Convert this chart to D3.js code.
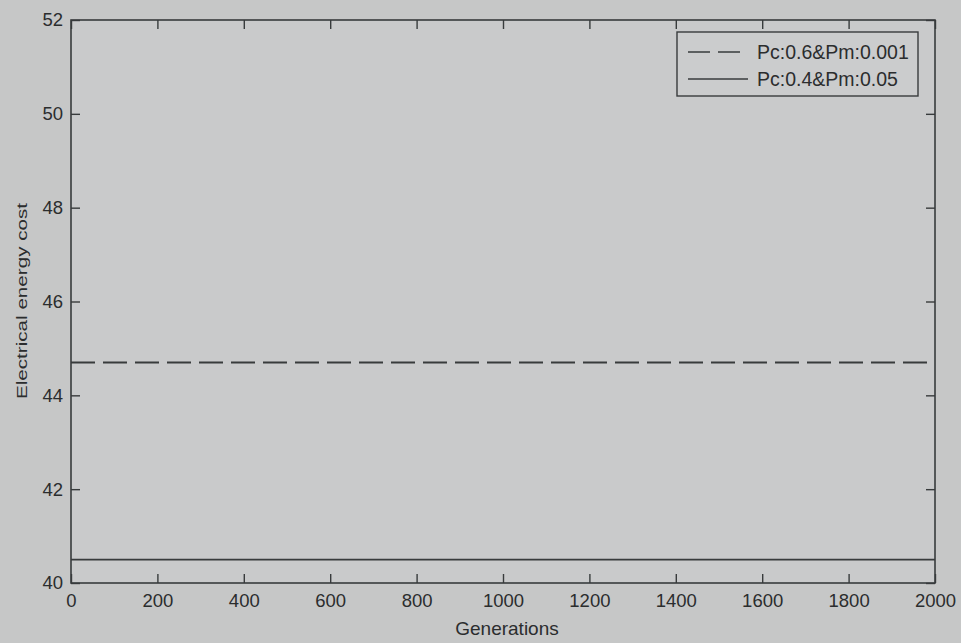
<!DOCTYPE html>
<html>
<head>
<meta charset="utf-8">
<script src="https://cdn.jsdelivr.net/npm/d3@7"></script>
<style>
  html, body { margin: 0; padding: 0; background: #c6c7c7; }
  svg { display: block; }
  text { font-family: "Liberation Sans", Arial, sans-serif; fill: #2b2d2e; }
</style>
</head>
<body>
<svg id="chart" width="961" height="643"></svg>
<script>
// ---- data ----
const generations = [0, 2000];
const seriesNames = ["Pc:0.6&Pm:0.001", "Pc:0.4&Pm:0.05"];
const seriesDashed = [44.7, 44.7];
const seriesSolid = [40.5, 40.5];
const xTicks = [0, 200, 400, 600, 800, 1000, 1200, 1400, 1600, 1800, 2000];
const yTicks = [40, 42, 44, 46, 48, 50, 52];
const xLabel = "Generations";
const yLabel = "Electrical energy cost";

// ---- layout ----
const svg = d3.select("#chart");
const m = { left: 71, right: 935, top: 20, bottom: 583 };
const lineColor = "#383b3c";

const x = d3.scaleLinear().domain([0, 2000]).range([m.left, m.right]);
const y = d3.scaleLinear().domain([40, 52]).range([m.bottom, m.top]);

svg.append("rect").attr("width", 961).attr("height", 643).attr("fill", "#c6c7c7");
svg.append("rect").attr("x", m.left).attr("y", m.top)
  .attr("width", m.right - m.left).attr("height", m.bottom - m.top)
  .attr("fill", "#c9cacb");

const tick = 9;
const fmt = d3.format("d");
// bottom axis (ticks inward)
const gx = svg.append("g").attr("transform", `translate(0,${m.bottom})`)
  .call(d3.axisBottom(x).tickValues(xTicks).tickFormat(fmt).tickSize(-tick).tickPadding(11).tickSizeOuter(0));
// top axis ticks
const gxt = svg.append("g").attr("transform", `translate(0,${m.top})`)
  .call(d3.axisTop(x).tickValues(xTicks).tickSize(-tick).tickFormat("").tickSizeOuter(0));
// left axis
const gy = svg.append("g").attr("transform", `translate(${m.left},0)`)
  .call(d3.axisLeft(y).tickValues(yTicks).tickFormat(fmt).tickSize(-tick).tickPadding(8).tickSizeOuter(0));
// right axis ticks
const gyr = svg.append("g").attr("transform", `translate(${m.right},0)`)
  .call(d3.axisRight(y).tickValues(yTicks).tickSize(-tick).tickFormat("").tickSizeOuter(0));

[gx, gxt, gy, gyr].forEach(g => {
  g.select(".domain").remove();
  g.selectAll("line").attr("stroke", lineColor).attr("stroke-width", 1.4);
  g.selectAll("text").attr("font-size", 18.5).attr("fill", "#2b2d2e")
    .attr("font-family", "'Liberation Sans', Arial, sans-serif");
});

// box
svg.append("rect").attr("x", m.left).attr("y", m.top)
  .attr("width", m.right - m.left).attr("height", m.bottom - m.top)
  .attr("fill", "none").attr("stroke", lineColor).attr("stroke-width", 1.6);

// series
const line = d3.line().x((d, i) => x(generations[i])).y(d => y(d));
svg.append("path").datum(seriesDashed).attr("d", line)
  .attr("fill", "none").attr("stroke", lineColor).attr("stroke-width", 1.8)
  .attr("stroke-dasharray", "24,8");
svg.append("path").datum(seriesSolid).attr("d", line)
  .attr("fill", "none").attr("stroke", lineColor).attr("stroke-width", 1.8);

// axis labels
svg.append("text").attr("x", 507).attr("y", 635)
  .attr("text-anchor", "middle").attr("font-size", 19).text(xLabel);
svg.append("text").attr("transform", `translate(27,301) rotate(-90)`)
  .attr("text-anchor", "middle").attr("font-size", 15.5)
  .attr("textLength", 196).attr("lengthAdjust", "spacingAndGlyphs").text(yLabel);

// legend
const lg = svg.append("g");
lg.append("rect").attr("x", 677).attr("y", 32).attr("width", 241).attr("height", 64)
  .attr("fill", "#cbcccd").attr("stroke", lineColor).attr("stroke-width", 1.4);
const legendStyles = ["22,8", null];
seriesNames.forEach((name, i) => {
  const yy = 52 + i * 27;
  const l = lg.append("line").attr("x1", 688).attr("x2", 748).attr("y1", yy).attr("y2", yy)
    .attr("stroke", lineColor).attr("stroke-width", 1.7);
  if (legendStyles[i]) l.attr("stroke-dasharray", legendStyles[i]);
  lg.append("text").attr("x", 757).attr("y", yy + 7).attr("font-size", 19.5).text(name);
});
</script>
</body>
</html>
